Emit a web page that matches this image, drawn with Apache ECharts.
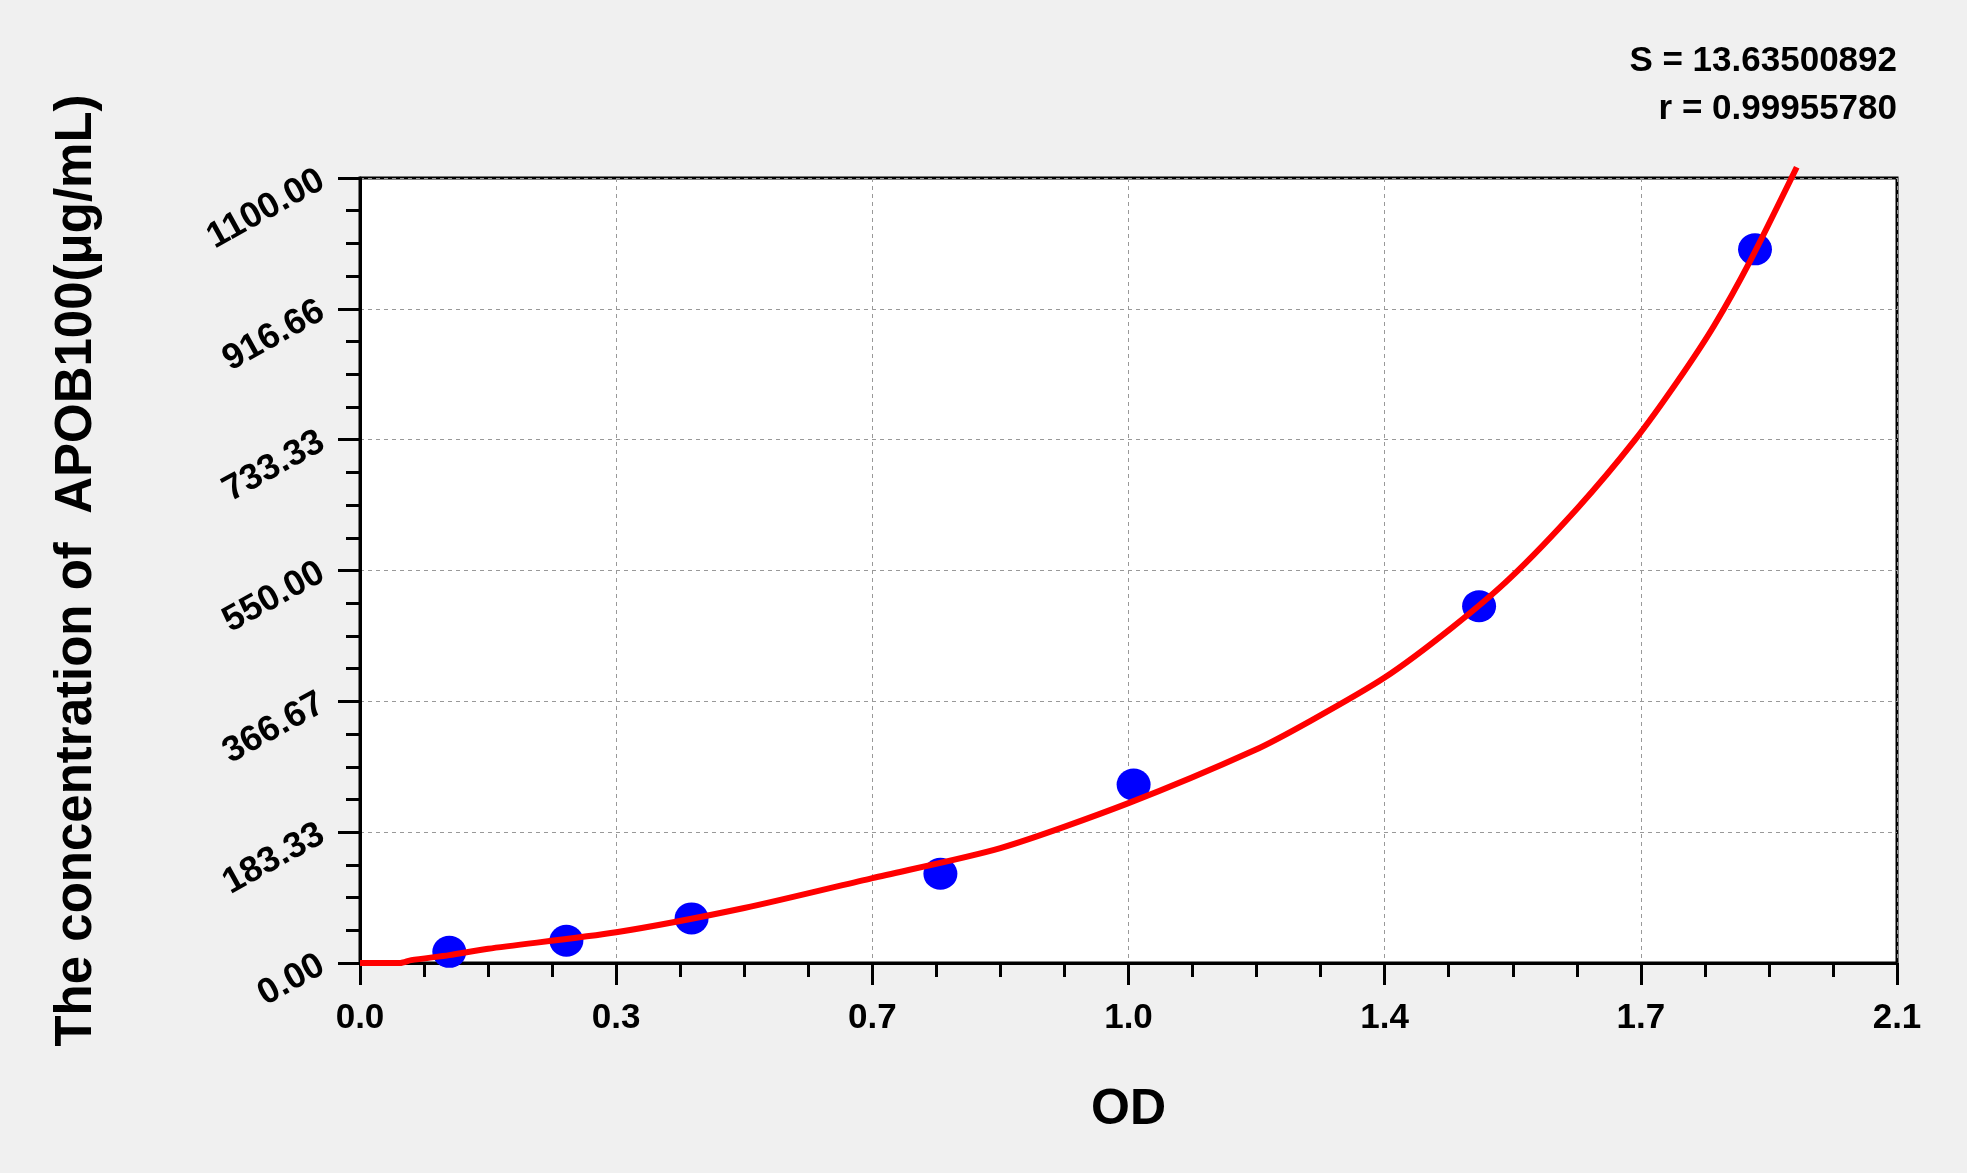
<!DOCTYPE html>
<html>
<head>
<meta charset="utf-8">
<title>APOB100 standard curve</title>
<script src="https://cdn.jsdelivr.net/npm/echarts@6/dist/echarts.min.js"></script>
<style>
  html, body { margin: 0; padding: 0; background: #f0f0f0; }
  #main { width: 1967px; height: 1173px; }
</style>
</head>
<body>
<div id="main"></div>
<script>
// measured standards (OD -> concentration)
var odValues = [0.122, 0.282, 0.453, 0.793, 1.057, 1.529, 1.906];
var concValues = [15.6, 31.25, 62.5, 125, 250, 500, 1000];

// fitted curve
var fitOD = [0, 0.055, 0.07, 0.122, 0.175, 0.35, 0.525, 0.7, 0.875, 1.05, 1.222, 1.3, 1.4, 1.492, 1.572, 1.664, 1.742, 1.8, 1.85, 1.9, 1.963];
var fitConc = [0, 0, 4, 11, 20, 43, 77, 119, 161, 224, 298, 340, 400, 470, 540, 638, 733, 815, 893, 985, 1115];

// tick labels
var xTickLabels = ['0.0', '0.3', '0.7', '1.0', '1.4', '1.7', '2.1'];
var yTickLabels = ['0.00', '183.33', '366.67', '550.00', '733.33', '916.66', '1100.00'];

var statS = 'S = 13.63500892';
var statR = 'r = 0.99955780';

var font = "'Liberation Sans', Arial, sans-serif";
var xStep = 0.35;
var yStep = 1100 / 6;

var myChart = echarts.init(document.getElementById('main'));

var pointData = odValues.map(function (v, i) { return [v, concValues[i]]; });
var fitData = fitOD.map(function (v, i) { return [v, fitConc[i]]; });

var option = {
    backgroundColor: '#f0f0f0',
    animation: false,
    grid: {
        left: 360,
        right: 70,
        top: 178,
        bottom: 210,
        show: true,
        backgroundColor: '#ffffff',
        borderColor: '#000000',
        borderWidth: 3,
        containLabel: false,
        outerBoundsMode: 'none'
    },
    graphic: [
        {
            type: 'text',
            right: 70,
            top: 44,
            style: { text: statS, font: 'bold 35px ' + font, fill: '#000' }
        },
        {
            type: 'text',
            right: 70,
            top: 92,
            style: { text: statR, font: 'bold 35px ' + font, fill: '#000' }
        }
    ],
    xAxis: {
        type: 'value',
        min: 0,
        max: 2.1,
        interval: xStep,
        name: 'OD',
        nameLocation: 'middle',
        nameGap: 122,
        nameTextStyle: { fontFamily: font, fontWeight: 'bold', fontSize: 50, color: '#000' },
        axisLine: { show: true, lineStyle: { color: '#000', width: 3 } },
        axisTick: { show: true, inside: false, length: 22, lineStyle: { color: '#000', width: 3 } },
        minorTick: { show: true, splitNumber: 4, length: 14, lineStyle: { color: '#000', width: 3 } },
        axisLabel: {
            margin: 38,
            fontFamily: font,
            fontWeight: 'bold',
            fontSize: 35,
            color: '#000',
            formatter: function (v) { return xTickLabels[Math.round(v / xStep)]; }
        },
        splitLine: { show: true, lineStyle: { color: '#999', width: 1, type: [4, 4] } }
    },
    yAxis: {
        type: 'value',
        min: 0,
        max: 1100,
        interval: yStep,
        name: 'The concentration of  APOB100(μg/mL)',
        nameLocation: 'middle',
        nameRotate: 90,
        nameGap: 258,
        nameTextStyle: { fontFamily: font, fontWeight: 'bold', fontSize: 51, color: '#000' },
        axisLine: { show: true, lineStyle: { color: '#000', width: 3 } },
        axisTick: { show: true, inside: false, length: 22, lineStyle: { color: '#000', width: 3 } },
        minorTick: { show: true, splitNumber: 4, length: 14, lineStyle: { color: '#000', width: 3 } },
        axisLabel: {
            margin: 38,
            rotate: 29,
            fontFamily: font,
            fontWeight: 'bold',
            fontSize: 36,
            color: '#000',
            formatter: function (v) { return yTickLabels[Math.round(v / yStep)]; }
        },
        splitLine: { show: true, lineStyle: { color: '#999', width: 1, type: [4, 4] } }
    },
    series: [
        {
            name: 'standards',
            type: 'scatter',
            data: pointData,
            symbol: 'circle',
            symbolSize: [34, 32],
            itemStyle: { color: '#0000ff', opacity: 1 },
            z: 2
        },
        {
            name: 'fit',
            type: 'line',
            data: fitData,
            smooth: 0.25,
            showSymbol: false,
            clip: false,
            lineStyle: { color: '#ff0000', width: 6 },
            z: 3
        }
    ]
};

myChart.setOption(option);
</script>
</body>
</html>
